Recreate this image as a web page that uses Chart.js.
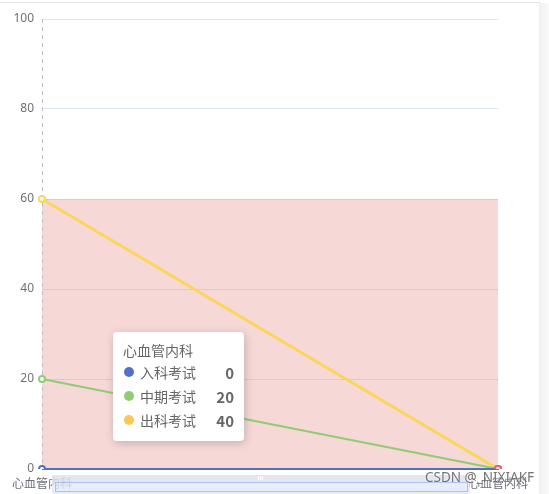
<!DOCTYPE html>
<html>
<head>
<meta charset="utf-8">
<script src="https://cdn.jsdelivr.net/npm/chart.js@4/dist/chart.umd.min.js"></script>
<style>
  html, body { margin: 0; padding: 0; background: #fff; }
  #wrap { position: relative; width: 549px; height: 494px; overflow: hidden; }
  #topline { position: absolute; left: 0; top: 2px; width: 540px; height: 1px; background: #e4e4e4; }
  #sidebar { position: absolute; left: 539px; top: 3px; width: 10px; height: 491px;
    background: linear-gradient(to right, #f0f0f2, #fafafa); }
  #tip { position: absolute; background: #fff; border-radius: 4px; box-sizing: border-box;
    box-shadow: rgba(0,0,0,0.2) 1px 2px 10px; padding: 8px 10px 9px 10px; width: 131px;
    font-family: 'Noto Sans CJK SC', sans-serif; color: #666; font-size: 14px; display: none; }
  #tip .t { line-height: 20px; margin-bottom: 0; }
  #tip .r { display: flex; align-items: center; height: 24px; }
  #tip .d { width: 10px; height: 10px; border-radius: 5px; margin: 0 6px 0 1px; }
  #tip .v { margin-left: auto; font-weight: bold; font-size: 15px; color: #666; }
  #mark { position: absolute; left: 425px; top: 468px; font-family: 'Noto Sans', sans-serif;
    font-size: 13.5px; color: rgba(90,90,90,0.85); text-shadow: 0 0 2px #fff; }
</style>
</head>
<body>
<div id="wrap">
  <canvas id="c" width="549" height="494"></canvas>
  <div id="topline"></div>
  <div id="sidebar"></div>
  <div id="tip"></div>
  <div id="mark">CSDN @_NIXIAKF</div>
</div>
<script>
const categories = ['心血管内科', '心血管内科'];
const seriesNames = ['入科考试', '中期考试', '出科考试'];
const entryExam = [0, 0];
const midExam = [20, 0];
const exitExam = [40, 0];
const extraPoint = [null, 0];
const yTicks = [0, 20, 40, 60, 80, 100];
const markRange = [0, 60];

const colors = ['#5470c6', '#91cc75', '#fac858', '#ee6666'];

function lineSet(label, data, color, width, order) {
  return {
    label: label,
    data: data,
    order: order,
    borderColor: color,
    backgroundColor: '#fff',
    borderWidth: width,
    pointRadius: 3,
    pointBorderWidth: 2,
    pointBorderColor: color,
    pointBackgroundColor: '#fff',
    pointHoverRadius: 3,
    pointHoverBorderWidth: 2,
    tension: 0,
    fill: false
  };
}

// pink mark area, drawn from the y scale
const markAreaPlugin = {
  id: 'markArea',
  beforeDatasetsDraw(chart) {
    const { ctx, chartArea, scales } = chart;
    const y1 = scales.y.getPixelForValue(markRange[1]);
    const y0 = scales.y.getPixelForValue(markRange[0]);
    ctx.save();
    ctx.fillStyle = 'rgba(225,125,122,0.3)';
    ctx.fillRect(chartArea.left, y1, chartArea.right - chartArea.left, y0 - y1);
    ctx.restore();
  }
};

// dashed axis pointer + data zoom strip
const extrasPlugin = {
  id: 'extras',
  beforeDatasetsDraw(chart) {
    const act = chart.tooltip.getActiveElements();
    if (!act.length) return;
    const { ctx, chartArea } = chart;
    const x = Math.round(act[0].element.x) + 0.5;
    ctx.save();
    ctx.strokeStyle = '#b9bec9';
    ctx.lineWidth = 1;
    ctx.setLineDash([4, 4]);
    ctx.beginPath();
    ctx.moveTo(x, chartArea.top);
    ctx.lineTo(x, chartArea.bottom);
    ctx.stroke();
    ctx.restore();
  },
  afterDraw(chart) {
    const ctx = chart.ctx;
    ctx.save();
    ctx.fillStyle = 'rgba(220,226,238,0.85)';
    ctx.fillRect(52, 475, 418, 7);
    ctx.fillStyle = 'rgba(226,233,250,0.8)';
    ctx.fillRect(52, 482, 418, 12);
    ctx.strokeStyle = '#aebff0';
    ctx.lineWidth = 1;
    ctx.strokeRect(55.5, 482.5, 412, 9);
    ctx.fillStyle = '#fff';
    ctx.fillRect(258, 476, 1, 4);
    ctx.fillRect(260, 476, 1, 4);
    ctx.fillRect(262, 476, 1, 4);
    ctx.restore();
  }
};

function externalTip(context) {
  const tip = document.getElementById('tip');
  const t = context.tooltip;
  if (t.opacity === 0 || !t.dataPoints) { tip.style.display = 'none'; return; }
  let html = '<div class="t">' + t.title[0] + '</div>';
  t.dataPoints.forEach(dp => {
    html += '<div class="r"><span class="d" style="background:' + colors[dp.datasetIndex] + '"></span>' +
      '<span>' + dp.dataset.label + '</span><span class="v">' + dp.raw + '</span></div>';
  });
  tip.innerHTML = html;
  tip.style.display = 'block';
  tip.style.left = (t.caretX + 71) + 'px';
  tip.style.top = '332px';
}

const chart = new Chart(document.getElementById('c'), {
  type: 'line',
  data: {
    labels: categories,
    datasets: [
      lineSet(seriesNames[0], entryExam, colors[0], 2, 0),
      lineSet(seriesNames[1], midExam, colors[1], 2, 1),
      lineSet(seriesNames[2], exitExam, '#fbd65a', 3, 2),
      lineSet('', extraPoint, colors[3], 2, -1)
    ]
  },
  options: {
    responsive: false,
    animation: false,
    events: [],
    layout: { padding: { top: 19, right: 51, bottom: 0, left: 0 } },
    plugins: {
      legend: { display: false },
      tooltip: {
        enabled: false,
        mode: 'index',
        intersect: false,
        filter: item => item.datasetIndex < 3,
        itemSort: (a, b) => a.datasetIndex - b.datasetIndex,
        external: externalTip
      }
    },
    scales: {
      x: {
        offset: false,
        grid: { display: false, drawTicks: false },
        border: { color: '#6e7079' },
        ticks: { color: '#6e7079', font: { size: 12, family: "'Noto Sans CJK SC', sans-serif" }, padding: 7, maxRotation: 0, autoSkip: false },
        afterFit: s => { s.height = 25; }
      },
      y: {
        stacked: true,
        min: yTicks[0],
        max: yTicks[yTicks.length - 1],
        afterBuildTicks: s => { s.ticks = yTicks.map(v => ({ value: v })); },
        grid: { color: '#e0e6f1', drawTicks: false },
        border: { display: false },
        ticks: { color: '#6e7079', font: { size: 12, family: "'Noto Sans', sans-serif" }, padding: 8 },
        afterFit: s => { s.width = 42; }
      }
    }
  },
  plugins: [markAreaPlugin, extrasPlugin]
});

chart.tooltip.setActiveElements([0, 1, 2].map(i => ({ datasetIndex: i, index: 0 })), { x: 0, y: 0 });
chart.update();
</script>
</body>
</html>
